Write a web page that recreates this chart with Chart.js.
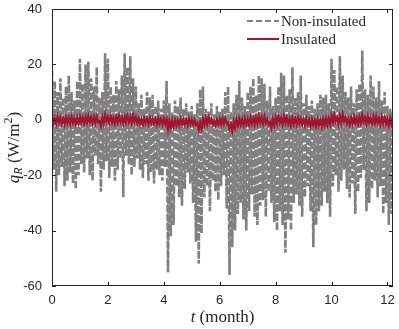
<!DOCTYPE html>
<html>
<head>
<meta charset="utf-8">
<script src="https://cdn.jsdelivr.net/npm/chart.js@4/dist/chart.umd.min.js"></script>
<style>
  html, body { margin: 0; padding: 0; background: #fff; }
  #wrap { width: 399px; height: 329px; }
</style>
</head>
<body>
<div id="wrap"><canvas id="ch" width="399" height="329"></canvas></div>
<script>
// q_R, one max / min pair every 0.1 month (t = 0 ... 12.2)
const nonInsHi = [
  18, 14, 10, 15, 8, 12, 16, 10, 7, 14,
  22, 13, 20, 21, 15, 12, 19, 8, 10, 24,
  22, 12, 9, 14, 11, 16, 24, 19, 23, 15,
  12, 6, 9, 4, 10, 8, 9, 5, 7, 4,
  7, 14, 6, 3, 7, 5, 8, 4, 6, 3,
  5, 2, 6, 11, 12, 4, 3, 6, 2, 5,
  3, 4, 10, 12, 3, 6, 9, 14, 8, 5,
  10, 12, 15, 9, 16, 15, 13, 7, 12, 5,
  8, 12, 17, 16, 9, 11, 19, 8, 10, 16,
  6, 9, 5, 7, 4, 6, 9, 8, 9, 6,
  22, 18, 12, 23, 16, 10, 8, 12, 6, 11,
  13, 25, 11, 9, 16, 12, 8, 14, 7, 10,
  5, 4, 3
];
const nonInsLo = [
  -18, -26, -20, -17, -24, -22, -19, -23, -25, -20,
  -16, -19, -14, -20, -22, -13, -16, -26, -18, -15,
  -21, -17, -22, -18, -14, -28, -13, -16, -20, -17,
  -14, -18, -21, -16, -22, -19, -23, -18, -20, -22,
  -17, -55, -42, -38, -24, -28, -31, -25, -19, -23,
  -30, -44, -52, -41, -28, -24, -33, -22, -26, -29,
  -24, -20, -32, -56, -46, -40, -34, -30, -36, -40,
  -33, -27, -35, -38, -31, -29, -35, -26, -30, -37,
  -40, -33, -38, -48, -36, -40, -30, -27, -31, -35,
  -28, -24, -33, -46, -38, -33, -31, -26, -30, -35,
  -24, -20, -26, -22, -18, -25, -28, -23, -34, -26,
  -21, -18, -33, -30, -25, -22, -28, -24, -34, -30,
  -38, -34, -20
];
const insHi = [
  1.0, 0.6, 1.2, 0.8, 0.5, 1.0, 0.7, 1.1, 0.6, 0.9,
  1.2, 0.8, 1.0, 1.4, 0.9, 1.1, 1.3, -0.5, 0.8, 1.8,
  1.0, 1.2, 0.7, 1.0, 1.4, 0.8, 1.1, 1.5, 0.9, 1.6,
  1.0, 0.5, 0.2, 0.6, 0.3, 0.7, 0.4, 0.2, 0.6, 0.3,
  0.5, 0.2, -0.4, -0.2, 0.0, -0.2, 0.3, 0.1, -0.1, 0.4,
  0.2, 0.0, -1.2, -1.0, 0.3, 0.6, 0.9, 0.2, -0.3, 0.1,
  0.3, 0.5, 0.4, -1.0, -1.6, -0.6, 0.0, 0.3, 0.1, 0.6,
  0.4, 0.8, 0.5, 1.0, 1.3, 0.9, 1.2, 0.3, -0.8, 0.2,
  0.9, 1.2, 0.6, 1.4, 0.8, 0.3, 0.7, 0.4, 0.9, 0.5,
  0.2, 0.5, 0.0, 0.3, -0.2, 0.2, -0.1, 0.3, 0.5, 0.4,
  1.5, 1.8, 0.6, 1.4, 2.0, 0.8, 0.2, 0.7, 1.1, 0.6,
  0.9, 1.8, 0.8, 1.3, 0.7, 1.1, 1.2, 0.6, 1.0, 0.8,
  0.2, 0.6, 1.0
];
const insLo = [
  -1.2, -1.5, -1.0, -1.4, -1.6, -1.1, -1.3, -1.0, -1.5, -1.2,
  -0.9, -1.3, -1.1, -0.8, -1.2, -1.0, -0.9, -2.2, -1.3, -0.6,
  -1.0, -1.0, -1.3, -0.9, -0.8, -1.2, -1.0, -0.7, -1.1, -0.6,
  -1.2, -1.5, -1.7, -1.3, -1.6, -1.2, -1.5, -1.8, -1.4, -1.6,
  -1.5, -3.5, -3.0, -2.4, -2.0, -1.9, -1.6, -1.8, -2.0, -1.5,
  -1.7, -1.9, -3.6, -3.2, -1.8, -1.5, -1.2, -1.7, -2.0, -1.7,
  -1.6, -1.5, -1.5, -3.4, -4.0, -2.8, -2.2, -1.8, -2.0, -1.6,
  -1.8, -1.4, -1.7, -1.3, -1.0, -1.4, -1.2, -1.8, -2.8, -1.9,
  -1.4, -1.0, -1.6, -1.1, -1.5, -1.9, -1.6, -1.8, -1.3, -1.7,
  -2.0, -1.7, -2.2, -1.9, -2.3, -2.0, -2.4, -1.9, -1.8, -1.6,
  -0.8, -0.6, -1.5, -1.0, -0.5, -1.3, -1.8, -1.4, -1.2, -1.5,
  -1.2, -0.7, -1.4, -1.0, -1.5, -1.2, -1.0, -1.6, -1.3, -1.5,
  -2.0, -1.6, -1.1
];
const xTicks = [0, 2, 4, 6, 8, 10, 12];
const yTicks = [40, 20, 0, -20, -40, -60];
const seriesNames = ['Non-insulated', 'Insulated'];

const STEP = 0.1;
const GRAY = '#808080', RED = '#A2142F', AXIS = '#262626';
const SERIF = '"Liberation Serif", "Times New Roman", serif';
const SANS = '"Liberation Sans", Arial, sans-serif';

// max and min of each 0.1 month alternate, so the line swings like the daily cycle
function zigzag(hi, lo) {
  const pts = [];
  hi.forEach((v, i) => {
    pts.push({ x: i * STEP, y: v });
    pts.push({ x: i * STEP + STEP / 2, y: lo[i] });
  });
  return pts;
}

const frame = {
  id: 'frame',
  afterDraw(chart) {
    const { ctx, chartArea: a, scales: { x, y } } = chart;
    ctx.save();
    ctx.setLineDash([]);
    ctx.globalAlpha = 1;
    ctx.fillStyle = AXIS;
    const L = Math.round(a.left), R = Math.round(a.right), T = Math.round(a.top), B = Math.round(a.bottom);
    ctx.fillRect(L, T, R - L, 1);
    ctx.fillRect(L, B - 1, R - L, 1);
    ctx.fillRect(L, T, 1, B - T);
    ctx.fillRect(R - 1, T, 1, B - T);
    xTicks.forEach(v => {
      const px = Math.round(x.getPixelForValue(v));
      ctx.fillRect(px, B - 4, 1, 4);
      ctx.fillRect(px, T, 1, 4);
    });
    yTicks.forEach(v => {
      const py = Math.round(y.getPixelForValue(v));
      ctx.fillRect(L, py, 4, 1);
      ctx.fillRect(R - 4, py, 4, 1);
    });

    // axis titles
    ctx.textBaseline = 'alphabetic';
    const big = '17px ' + SERIF, bigI = 'italic 17px ' + SERIF, small = '12px ' + SERIF, smallI = 'italic 12px ' + SERIF;
    const parts = (list) => list.map(p => { ctx.font = p[1]; return { t: p[0], f: p[1], dy: p[2], w: ctx.measureText(p[0]).width }; });
    const draw = (list, cx, cy) => {
      const tot = list.reduce((s, p) => s + p.w, 0);
      let px = cx - tot / 2;
      list.forEach(p => { ctx.font = p.f; ctx.fillText(p.t, px, cy + p.dy); px += p.w; });
    };
    draw(parts([['t', bigI, 0], [' (month)', big, 0]]), (a.left + a.right) / 2, 322);
    ctx.save();
    ctx.translate(19, (a.top + a.bottom) / 2);
    ctx.rotate(-Math.PI / 2);
    draw(parts([['q', bigI, 0], ['R', smallI, 3], [' (W/m', big, 0], ['2', small, -7], [')', big, 0]]), 0, 0);
    ctx.restore();

    // legend
    const ds = chart.data.datasets;
    const rows = [21, 39];
    ctx.font = '15px ' + SERIF;
    ctx.textBaseline = 'middle';
    ds.forEach((d, i) => {
      ctx.save();
      ctx.strokeStyle = d.borderColor;
      ctx.lineWidth = 2;
      ctx.setLineDash(d.borderDash ? [6, 3] : []);
      ctx.beginPath();
      ctx.moveTo(247, rows[i]); ctx.lineTo(279, rows[i]);
      ctx.stroke();
      ctx.restore();
      ctx.fillStyle = AXIS;
      ctx.fillText(seriesNames[i], 281, rows[i] + 1);
    });
    ctx.restore();
  }
};

new Chart(document.getElementById('ch'), {
  type: 'line',
  data: {
    datasets: [
      { label: seriesNames[0], data: zigzag(nonInsHi, nonInsLo), borderColor: GRAY, borderWidth: 2.6, borderDash: [7, 2], pointRadius: 0, order: 2 },
      { label: seriesNames[1], data: zigzag(insHi, insLo), borderColor: RED, borderWidth: 2.2, pointRadius: 0, order: 1 }
    ]
  },
  options: {
    responsive: false,
    animation: false,
    devicePixelRatio: 1,
    layout: { padding: { top: 9, right: 6, left: 0, bottom: 0 } },
    plugins: { legend: { display: false }, tooltip: { enabled: false } },
    scales: {
      x: {
        type: 'linear', min: 0, max: 12.2,
        afterBuildTicks: s => { s.ticks = xTicks.map(v => ({ value: v })); },
        afterFit: s => { s.height = 43; s.paddingLeft = 0; s.paddingRight = 0; },
        grid: { display: false, drawTicks: false },
        border: { display: false },
        ticks: { font: { family: SANS, size: 13 }, color: AXIS, padding: 7, maxRotation: 0 }
      },
      y: {
        type: 'linear', min: -60, max: 40,
        afterBuildTicks: s => { s.ticks = yTicks.map(v => ({ value: v })); },
        afterFit: s => { s.width = 52; s.paddingTop = 0; s.paddingBottom = 0; },
        grid: { display: false, drawTicks: false },
        border: { display: false },
        ticks: { font: { family: SANS, size: 13 }, color: AXIS, padding: 10 }
      }
    }
  },
  plugins: [frame]
});
</script>
</body>
</html>
